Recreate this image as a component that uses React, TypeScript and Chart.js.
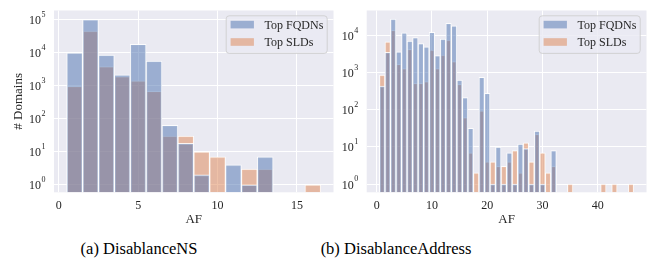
import React, { useEffect, useRef } from "react";
import { Chart, registerables } from "chart.js";
Chart.register(...registerables);

const seriesLabels = ["Top FQDNs", "Top SLDs"];
const seriesColors = ["rgba(76,114,176,0.5)", "rgba(221,132,82,0.5)"];

const nsBins = [1, 2, 3, 4, 5, 6, 7, 8, 9, 10, 11, 12, 13, 14, 15, 16];
const nsFqdn = [10000, 100000, 8500, 2150, 18000, 5600, 63, 18, 2, 0, 4, 1, 7, 0, 0, 0];
const nsSld = [950, 45000, 3800, 1900, 1400, 680, 30, 30, 10, 7, 0, 3, 3, 0, 0, 1];
const nsXTicks = [0, 5, 10, 15];
const nsYExponents = [0, 1, 2, 3, 4, 5];

const addrBins = [
  1, 2, 3, 4, 5, 6, 7, 8, 9, 10, 11, 12, 13, 14, 15, 16, 17, 18, 19, 20, 21, 22, 23,
  24, 25, 26, 27, 28, 29, 30, 31, 32, 33, 34, 35, 36, 37, 38, 39, 40, 41, 42, 43, 44, 45, 46,
];
const addrFqdn = [
  440, 3600, 28000, 3700, 12000, 7200, 9000, 6200, 5000, 12300, 2900, 8100, 21500, 18600,
  640, 215, 32, 0, 760, 280, 1, 10, 1, 7, 1, 12, 9, 1, 27, 1, 0, 8,
  0, 0, 0, 0, 0, 0, 0, 0, 0, 0, 0, 0, 0, 0,
];
const addrSld = [
  870, 6900, 14000, 1700, 1300, 4300, 520, 520, 580, 4100, 1300, 3000, 7600, 2000,
  490, 62, 7, 2, 94, 4, 4, 3, 3, 4, 8, 2, 13, 4, 22, 7, 2, 3,
  0, 0, 1, 0, 0, 0, 0, 0, 1, 0, 1, 0, 0, 1,
];
const addrXTicks = [0, 10, 20, 30, 40];
const addrYExponents = [0, 1, 2, 3, 4];

const captions = ["(a) DisablanceNS", "(b) DisablanceAddress"];

const FONT = "'Liberation Serif', 'Times New Roman', serif";
const TEXT = "#262626";

Chart.defaults.font.family = FONT;
Chart.defaults.color = TEXT;

const decorPlugin = {
  id: "decor",
  beforeDraw(chart: any) {
    const { ctx, chartArea: a } = chart;
    ctx.save();
    ctx.fillStyle = "#EAEAF2";
    ctx.fillRect(a.left, a.top, a.right - a.left, a.bottom - a.top);
    ctx.restore();
  },
  afterDraw(chart: any) {
    const { ctx, chartArea: a } = chart;
    const ys = chart.scales.y;
    ctx.save();
    ctx.fillStyle = TEXT;
    ctx.textBaseline = "alphabetic";
    ctx.textAlign = "right";
    for (const t of ys.ticks) {
      const py = ys.getPixelForValue(t.value);
      const e = String(Math.round(Math.log10(t.value)));
      const xr = a.left - 8.5;
      ctx.font = `8px ${FONT}`;
      const ew = ctx.measureText(e).width;
      ctx.fillText(e, xr, py - 3);
      ctx.font = `12px ${FONT}`;
      ctx.fillText("10", xr - ew - 0.5, py + 4.5);
    }
    const bw = 101;
    const bh = 37.6;
    const bx = a.right - 6.3 - bw;
    const by = a.top + 5.3;
    ctx.beginPath();
    ctx.roundRect(bx, by, bw, bh, 3);
    ctx.fillStyle = "rgba(234,234,242,0.8)";
    ctx.fill();
    ctx.strokeStyle = "rgba(204,204,204,0.8)";
    ctx.lineWidth = 1;
    ctx.stroke();
    chart.data.datasets.forEach((ds: any, i: number) => {
      const cy = by + 8.8 + i * 17.4;
      ctx.fillStyle = ds.backgroundColor;
      ctx.fillRect(bx + 4.4, cy - 3.8, 23.3, 7.6);
      ctx.fillStyle = TEXT;
      ctx.textAlign = "left";
      ctx.font = `12px ${FONT}`;
      ctx.fillText(ds.label, bx + 38.3, cy + 4.4);
    });
    ctx.restore();
  },
};

type PanelProps = {
  bins: number[];
  fqdn: number[];
  sld: number[];
  xTicks: number[];
  yExps: number[];
  xMin: number;
  xMax: number;
  yMin: number;
  yMax: number;
  left: number;
  width: number;
  height: number;
  yAxisWidth: number;
  rightPad: number;
  topPad: number;
  plotBottom: number;
  yTitle?: string;
};

function HistPanel(p: PanelProps) {
  const ref = useRef<HTMLCanvasElement | null>(null);
  useEffect(() => {
    if (!ref.current) return;
    const toPts = (vals: number[]) =>
      p.bins.map((b, i) => ({ x: b, y: vals[i] })).filter((d) => d.y > 0);
    const chart = new Chart(ref.current, {
      type: "bar",
      data: {
        datasets: [
          {
            label: seriesLabels[0],
            data: toPts(p.fqdn),
            backgroundColor: seriesColors[0],
            borderColor: "rgba(255,255,255,0.85)",
            borderWidth: 1,
            grouped: false,
            categoryPercentage: 1,
            barPercentage: 1,
          },
          {
            label: seriesLabels[1],
            data: toPts(p.sld),
            backgroundColor: seriesColors[1],
            borderColor: "rgba(255,255,255,0.85)",
            borderWidth: 1,
            grouped: false,
            categoryPercentage: 1,
            barPercentage: 1,
          },
        ],
      } as any,
      options: {
        responsive: false,
        animation: false,
        devicePixelRatio: 1,
        layout: { padding: { left: 0, right: p.rightPad, top: p.topPad, bottom: 0 } },
        plugins: { legend: { display: false }, tooltip: { enabled: false } },
        scales: {
          x: {
            type: "linear",
            min: p.xMin,
            max: p.xMax,
            offset: false,
            grid: { color: "#ffffff", lineWidth: 1, drawTicks: false, offset: false },
            border: { display: false },
            ticks: { font: { size: 12, family: FONT }, color: TEXT, padding: 6, maxRotation: 0 },
            title: {
              display: true,
              text: "AF",
              font: { size: 13, family: FONT },
              color: TEXT,
              padding: { top: 0, bottom: 5 },
            },
            afterBuildTicks: (s: any) => {
              s.ticks = p.xTicks.map((v) => ({ value: v }));
            },
            afterFit: (s: any) => {
              s.height = p.height - p.plotBottom;
            },
          },
          y: {
            type: "logarithmic",
            min: p.yMin,
            max: p.yMax,
            grid: { color: "#ffffff", lineWidth: 1, drawTicks: false },
            border: { display: false },
            ticks: { display: false },
            title: {
              display: !!p.yTitle,
              text: p.yTitle || "",
              font: { size: 13, family: FONT },
              color: TEXT,
              padding: { top: 11, bottom: 0 },
            },
            afterBuildTicks: (s: any) => {
              s.ticks = p.yExps.map((e) => ({ value: Math.pow(10, e) }));
            },
            afterFit: (s: any) => {
              s.width = p.yAxisWidth;
            },
          },
        },
      } as any,
      plugins: [decorPlugin as any],
    });
    return () => chart.destroy();
  }, []);
  return (
    <canvas
      ref={ref}
      width={p.width}
      height={p.height}
      style={{ position: "absolute", left: p.left, top: 0, width: p.width, height: p.height }}
    />
  );
}

export default function App() {
  const capStyle: React.CSSProperties = {
    position: "absolute",
    top: 239,
    width: 260,
    textAlign: "center",
    fontFamily: FONT,
    fontSize: 16.5,
    lineHeight: "20px",
    color: "#000",
    whiteSpace: "nowrap",
  };
  return (
    <div
      style={{
        position: "absolute",
        left: 0,
        top: 0,
        width: 650,
        height: 266,
        background: "#fff",
        overflow: "hidden",
      }}
    >
      <HistPanel
        bins={nsBins}
        fqdn={nsFqdn}
        sld={nsSld}
        xTicks={nsXTicks}
        yExps={nsYExponents}
        xMin={-0.3}
        xMax={17.3}
        yMin={0.59}
        yMax={190000}
        left={0}
        width={340}
        height={232}
        yAxisWidth={54}
        rightPad={6.5}
        topPad={10.5}
        plotBottom={192.3}
        yTitle="# Domains"
      />
      <HistPanel
        bins={addrBins}
        fqdn={addrFqdn}
        sld={addrSld}
        xTicks={addrXTicks}
        yExps={addrYExponents}
        xMin={-1.8}
        xMax={48.8}
        yMin={0.61}
        yMax={48000}
        left={330}
        width={320}
        height={232}
        yAxisWidth={36.7}
        rightPad={3.5}
        topPad={10.5}
        plotBottom={192.3}
      />
      <div style={{ ...capStyle, left: 9 }}>{captions[0]}</div>
      <div style={{ ...capStyle, left: 266 }}>{captions[1]}</div>
    </div>
  );
}
